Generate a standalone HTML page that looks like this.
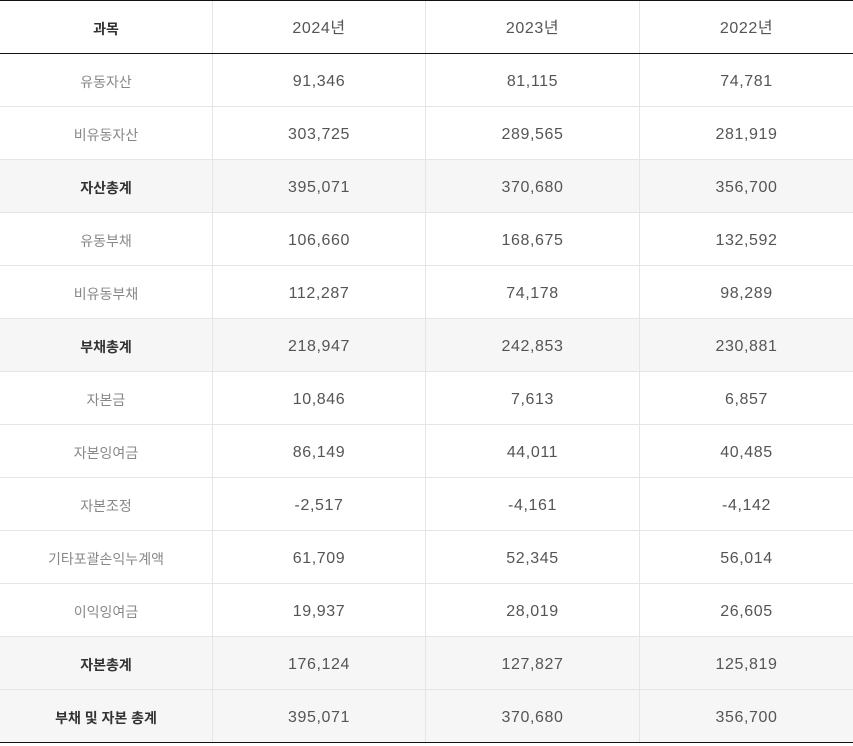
<!DOCTYPE html>
<html><head><meta charset="utf-8"><style>
body{margin:0;width:853px;height:743px;background:#fff;position:relative;overflow:hidden;font-family:"Liberation Sans","Noto Sans CJK KR",sans-serif}
.r{position:absolute;left:0;width:853px;height:53px;box-sizing:border-box;border-bottom:1px solid #e5e5e5}
.r.t{background:#f6f6f6}
.c{position:absolute;top:0;height:52px;line-height:56px;text-align:center;box-sizing:border-box;font-size:16px;color:#555;letter-spacing:0.6px}
.c0{left:0;width:213px;font-size:14px;color:#888;border-right:1px solid #e5e5e5;letter-spacing:0}
.c1{left:213px;width:213px;border-right:1px solid #e5e5e5}
.c2{left:426px;width:214px;border-right:1px solid #e5e5e5}
.c3{left:640px;width:213px}
.t .c0,.h .c0{font-weight:bold;color:#333}
.h{top:0;border-top:1px solid #111;border-bottom:1px solid #111;height:54px}
.h .c{height:52px}
.last{border-bottom:1px solid #111}
</style></head><body>
<div class="r h"><div class="c c0">과목</div><div class="c c1">2024년</div><div class="c c2">2023년</div><div class="c c3">2022년</div></div>
<div class="r" style="top:54px"><div class="c c0">유동자산</div><div class="c c1">91,346</div><div class="c c2">81,115</div><div class="c c3">74,781</div></div>
<div class="r" style="top:107px"><div class="c c0">비유동자산</div><div class="c c1">303,725</div><div class="c c2">289,565</div><div class="c c3">281,919</div></div>
<div class="r t" style="top:160px"><div class="c c0">자산총계</div><div class="c c1">395,071</div><div class="c c2">370,680</div><div class="c c3">356,700</div></div>
<div class="r" style="top:213px"><div class="c c0">유동부채</div><div class="c c1">106,660</div><div class="c c2">168,675</div><div class="c c3">132,592</div></div>
<div class="r" style="top:266px"><div class="c c0">비유동부채</div><div class="c c1">112,287</div><div class="c c2">74,178</div><div class="c c3">98,289</div></div>
<div class="r t" style="top:319px"><div class="c c0">부채총계</div><div class="c c1">218,947</div><div class="c c2">242,853</div><div class="c c3">230,881</div></div>
<div class="r" style="top:372px"><div class="c c0">자본금</div><div class="c c1">10,846</div><div class="c c2">7,613</div><div class="c c3">6,857</div></div>
<div class="r" style="top:425px"><div class="c c0">자본잉여금</div><div class="c c1">86,149</div><div class="c c2">44,011</div><div class="c c3">40,485</div></div>
<div class="r" style="top:478px"><div class="c c0">자본조정</div><div class="c c1">-2,517</div><div class="c c2">-4,161</div><div class="c c3">-4,142</div></div>
<div class="r" style="top:531px"><div class="c c0">기타포괄손익누계액</div><div class="c c1">61,709</div><div class="c c2">52,345</div><div class="c c3">56,014</div></div>
<div class="r" style="top:584px"><div class="c c0">이익잉여금</div><div class="c c1">19,937</div><div class="c c2">28,019</div><div class="c c3">26,605</div></div>
<div class="r t" style="top:637px"><div class="c c0">자본총계</div><div class="c c1">176,124</div><div class="c c2">127,827</div><div class="c c3">125,819</div></div>
<div class="r t last" style="top:690px"><div class="c c0">부채 및 자본 총계</div><div class="c c1">395,071</div><div class="c c2">370,680</div><div class="c c3">356,700</div></div>
</body></html>
